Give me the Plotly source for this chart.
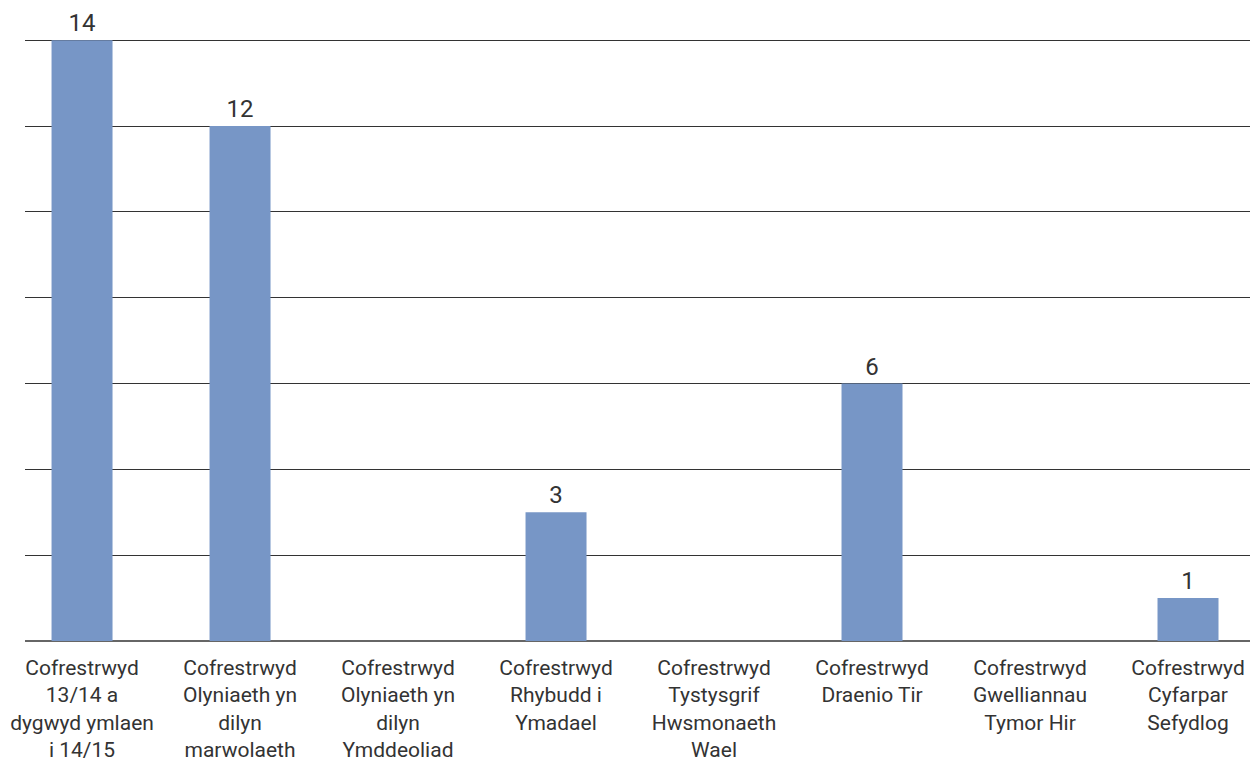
import plotly.graph_objects as go

categories = [
    "Cofrestrwyd<br>13/14 a<br>dygwyd ymlaen<br>i 14/15",
    "Cofrestrwyd<br>Olyniaeth yn<br>dilyn<br>marwolaeth",
    "Cofrestrwyd<br>Olyniaeth yn<br>dilyn<br>Ymddeoliad",
    "Cofrestrwyd<br>Rhybudd i<br>Ymadael",
    "Cofrestrwyd<br>Tystysgrif<br>Hwsmonaeth<br>Wael",
    "Cofrestrwyd<br>Draenio Tir",
    "Cofrestrwyd<br>Gwelliannau<br>Tymor Hir",
    "Cofrestrwyd<br>Cyfarpar<br>Sefydlog",
]
values = [14, 12, 0, 3, 0, 6, 0, 1]
labels = ["14", "12", "", "3", "", "6", "", "1"]
grid_values = [2, 4, 6, 8, 10, 12, 14]

FONT = "Roboto, Liberation Sans Narrow, DejaVu Sans Condensed, sans-serif"

fig = go.Figure(
    go.Bar(
        x=list(range(len(categories))),
        y=values,
        text=labels,
        textposition="outside",
        textfont=dict(size=24, color="#333333", family=FONT),
        marker=dict(color="#7796C6", line=dict(width=0)),
        width=0.386,
        cliponaxis=False,
    )
)

fig.update_layout(
    width=1258,
    height=763,
    margin=dict(l=17, r=8, t=28, b=130, autoexpand=False),
    paper_bgcolor="white",
    plot_bgcolor="white",
    showlegend=False,
    font=dict(family=FONT, color="#333333"),
)
fig.update_xaxes(
    tickmode="array",
    tickvals=list(range(len(categories))),
    ticktext=categories,
    tickfont=dict(size=21, family=FONT, color="#333333"),
    range=[-0.361, 7.443],
    showgrid=False,
    showline=False,
    zeroline=False,
    ticks="",
    ticklabelstandoff=12,
)
fig.update_yaxes(
    range=[0, 14.1],
    tickmode="array",
    tickvals=grid_values,
    showticklabels=False,
    showgrid=True,
    gridcolor="#333333",
    gridwidth=1,
    zeroline=True,
    zerolinecolor="#666666",
    zerolinewidth=2,
    showline=False,
)

fig.write_html("out.html")
